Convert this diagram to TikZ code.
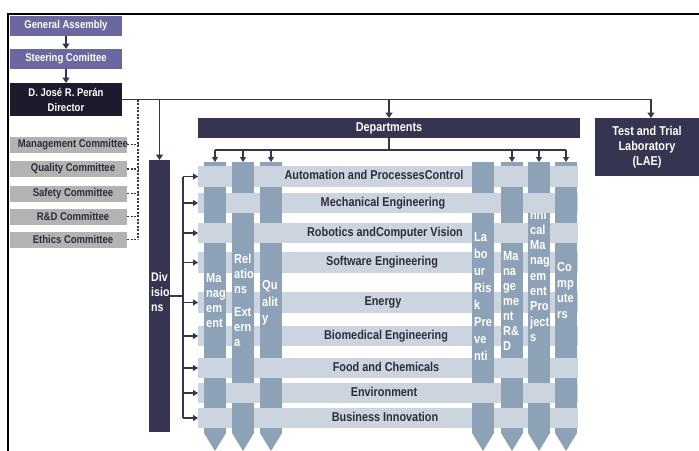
\documentclass[tikz,border=0pt]{standalone}
\usepackage{fontspec}
\newfontfamily\nar{Liberation Sans}[FakeStretch=0.85]
\usetikzlibrary{arrows.meta}
\definecolor{navy}{HTML}{363551}
\definecolor{ink}{HTML}{1C1B2E}
\definecolor{lav}{HTML}{6A689E}
\definecolor{grayc}{HTML}{B3B3B3}
\definecolor{rowc}{HTML}{CCD5DF}
\definecolor{colc}{HTML}{8EA2B7}
\definecolor{txt}{HTML}{2D2D3A}
\begin{document}
\begin{tikzpicture}[x=1pt,y=-1pt,
  box/.style={rectangle, inner sep=0pt, outer sep=0pt, draw=none, text=white, align=center},
  small/.style={font=\nar\bfseries\fontsize{11.2}{15}\selectfont},
  big/.style={font=\nar\bfseries\fontsize{12.8}{15}\selectfont},
  tip/.style={-{Triangle[length=5.5pt,width=7pt]}},
  stip/.style={-{Triangle[length=5pt,width=6pt]}},
  conn/.style={draw=navy, line width=1.8pt},
  conn2/.style={draw=navy, line width=1.5pt},
  comdash/.style={draw=navy, line width=1.3pt, dash pattern=on 2pt off 1.5pt},
  rowbar/.style={rectangle, fill=rowc, inner sep=0pt, outer sep=0pt, minimum width=380pt},
  rowtext/.style={inner sep=0pt, text=txt, text height=9pt, text depth=2.5pt, font=\nar\bfseries\fontsize{12.8}{15}\selectfont},
  colbar/.style={rectangle, fill=colc, inner sep=0pt, outer sep=0pt, minimum width=22pt, minimum height=271pt},
  coltext/.style={anchor=north west, inner sep=0pt, text=white, align=left}
]
\useasboundingbox (0,0) rectangle (699,450);
\fill[white] (0,0) rectangle (699,450);

% outer frame
\draw[line width=1.7pt, black] (8,452) -- (8,14) -- (701,14);

% governing bodies
\node[box, small, fill=lav, minimum width=112pt, minimum height=20pt] (ga) at (66,26) {General Assembly};
\node[box, small, fill=lav, minimum width=112pt, minimum height=20pt] (sc) at (66,59) {Steering Comittee};
\node[box, small, fill=ink, minimum width=112pt, minimum height=33pt] (dir) at (66,99.5) {D. José R. Perán\\Director};
\draw[conn, tip] (ga) -- (sc);
\draw[conn, tip] (sc) -- (dir);

% committees
\foreach \n/\y/\t in {mc/144.5/Management Committee, qc/169/Quality Committee, sfc/193.5/Safety Committee, rdc/216.5/R\&D Committee, ec/239.5/Ethics Committee}{
  \node[box, fill=grayc, minimum width=117pt, minimum height=16pt] (\n) at (68.5,\y) {};
  \node[small, inner sep=0pt, text=txt] (\n t) at (73,\y) {\t};
}
\coordinate (cbus) at (138,0);
\draw[comdash] (cbus |- dir.east) -- (cbus |- ec.east);
\foreach \n in {mc,qc,sfc,rdc,ec}{
  \draw[comdash] (\n.east) -- (\n.east -| cbus);
}

% departments, divisions, laboratory
\node[box, big, fill=navy, minimum width=382pt, minimum height=20pt] (dept) at (389,128) {Departments};
\node[box, big, fill=navy, minimum width=104pt, minimum height=58pt] (lab) at (647,147) {Test and Trial\\Laboratory\\(LAE)};
\node[box, fill=navy, minimum width=21pt, minimum height=272pt] (div) at (159.5,296) {};
\node[coltext, font=\nar\bfseries\fontsize{12.5}{15}\selectfont] (divt) at (151,272) {\rule{0pt}{9pt}Div\\isio\\ns};

\draw[conn, tip] (dir.east) -| ([xshift=4pt]lab.north);
\draw[conn, tip] (dept.north |- dir.east) -- (dept.north);
\draw[conn, tip] (div.north |- dir.east) -- (div.north);

% division rows
\foreach \i/\a/\b/\tx/\t in {
  0/166/187/374/Automation and ProcessesControl,
  1/193/213/383/Mechanical Engineering,
  2/223/243/385/Robotics andComputer Vision,
  3/252/273/382/Software Engineering,
  4/292/313/383/Energy,
  5/326/346/386/Biomedical Engineering,
  6/358/378/386/Food and Chemicals,
  7/383/403/384/Environment,
  8/408/428/385/Business Innovation}{
  \pgfmathsetmacro{\yc}{(\a+\b)/2}
  \pgfmathsetmacro{\hh}{\b-\a}
  \node[rowbar, minimum height=\hh pt] (r\i) at (388,\yc) {};
  \node[rowtext] (t\i) at (\tx,\yc) {\t};
}

% department columns
\foreach \j/\x in {0/215,1/243,2/271,3/483,4/512,5/539,6/566}{
  \node[colbar] (c\j) at (\x,297.5) {};
  \fill[colc] (c\j.south west) -- (c\j.south east) -- ([yshift=-18pt]c\j.south) -- cycle;
}
\begin{scope}[font=\nar\bfseries\fontsize{13}{15}\selectfont]
\node[coltext] (c0t) at (206,273) {\rule{0pt}{9.5pt}Ma\\nag\\em\\ent};
\node[coltext] (c1t) at (234,254) {\rule{0pt}{9.5pt}Rel\\atio\\ns\\[8pt]Ext\\ern\\a};
\node[coltext, font=\nar\bfseries\fontsize{13}{16.5}\selectfont] (c2t) at (262,280) {\rule{0pt}{9.5pt}Qu\\alit\\y};
\node[coltext, font=\nar\bfseries\fontsize{13}{17}\selectfont] (c3t) at (474,232) {\rule{0pt}{9.5pt}La\\bo\\ur\\Ris\\k\\Pre\\ve\\nti};
\node[coltext] (c4t) at (503,251) {\rule{0pt}{9.5pt}Ma\\na\\ge\\me\\nt\\R\&\\D};
\node[coltext, font=\nar\bfseries\fontsize{13}{15.3}\selectfont] (c5t) at (530,194) {\rule{0pt}{9.5pt}Tec\\hni\\cal\\Ma\\nag\\em\\ent\\Pro\\ject\\s};
\node[coltext, font=\nar\bfseries\fontsize{13}{15.5}\selectfont] (c6t) at (557,262) {\rule{0pt}{9.5pt}Co\\mp\\ute\\rs};
\end{scope}

% interlacing: rows passing over the columns
\foreach \r in {0,1,2,6,7,8}{
  \foreach \c in {0,...,6}{
    \pgfmathtruncatemacro{\oddcell}{mod(\r+\c,2)}
    \ifnum\oddcell=0
      \fill[rowc] (c\c.west |- r\r.north) rectangle (c\c.east |- r\r.south);
    \fi
  }
}

% departments to columns
\coordinate (bus) at (0,150);
\draw[conn2] (dept.south) -- (dept.south |- bus);
\draw[conn2] (c0.north |- bus) -- (c6.north |- bus);
\foreach \j in {0,1,2,4,5,6}{
  \draw[conn2, stip] (c\j.north |- bus) -- (c\j.north);
}

% divisions to rows
\coordinate (dbus) at (183,0);
\draw[conn2] (div.east) -- (div.east -| dbus);
\draw[conn2] (dbus |- r0.west) -- (dbus |- r8.west);
\foreach \i in {0,...,8}{
  \draw[conn2, stip] (dbus |- r\i.west) -- (r\i.west);
}
\end{tikzpicture}
\end{document}
